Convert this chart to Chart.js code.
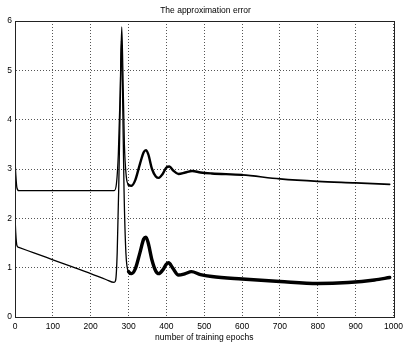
<!DOCTYPE html>
<html>
<head>
<meta charset="utf-8">
<script src="https://cdn.jsdelivr.net/npm/chart.js@4/dist/chart.umd.min.js"></script>
<style>
html,body{margin:0;padding:0;background:#fff;}
canvas{display:block;}
</style>
</head>
<body>
<canvas id="c" width="411" height="351"></canvas>
<script>
// ---- data ----
const xTicks = [0,100,200,300,400,500,600,700,800,900,1000];
const yTicks = [0,1,2,3,4,5,6];

const upperEpochs = [0,2,5,10,262,268,273,278,282,285,289,294,300,308,318,330,340,346,352,362,372,380,390,400,408,418,432,450,468,490,520,600,700,800,900,990];
const upperErr    = [3.18,2.9,2.62,2.56,2.56,2.7,3.3,4.6,5.88,5.0,3.5,2.85,2.68,2.66,2.78,3.1,3.34,3.38,3.3,3.0,2.85,2.82,2.9,3.03,3.05,2.97,2.9,2.93,2.96,2.93,2.91,2.88,2.80,2.75,2.72,2.69];

const lowerEpochs = [0,2,5,10,50,100,150,200,240,262,266,270,274,278,281,284,288,293,300,308,318,330,340,346,352,362,372,380,390,400,406,416,432,450,466,490,520,600,700,800,880,950,990];
const lowerErr    = [2.05,1.7,1.45,1.41,1.30,1.16,1.02,0.88,0.76,0.70,0.75,1.3,2.6,4.3,5.6,4.6,2.6,1.3,0.92,0.88,0.98,1.3,1.58,1.62,1.5,1.15,0.93,0.88,0.95,1.07,1.1,1.0,0.85,0.88,0.92,0.86,0.82,0.77,0.72,0.68,0.70,0.75,0.80];

const toPts = (xs, ys) => xs.map((x, i) => ({x: x, y: ys[i]}));

const frame = {
  id: 'frame',
  afterDraw(chart) {
    const a = chart.chartArea, ctx = chart.ctx;
    ctx.save();
    ctx.strokeStyle = '#222';
    ctx.lineWidth = 1;
    ctx.setLineDash([]);
    ctx.strokeRect(Math.round(a.left) + 0.5, Math.round(a.top) + 0.5,
                   Math.round(a.right - a.left), Math.round(a.bottom - a.top));
    ctx.restore();
  }
};

const FONT = "'Liberation Sans', Arial, sans-serif";

new Chart(document.getElementById('c'), {
  type: 'line',
  data: {
    datasets: [
      {
        label: 'upper',
        data: toPts(upperEpochs, upperErr),
        borderColor: '#000',
        borderWidth: 1.3,
        borderCapStyle: 'round',
        borderJoinStyle: 'round',
        pointRadius: 0,
        cubicInterpolationMode: 'monotone',
        segment: {
          borderWidth: ctx => (ctx.p0.parsed.x >= 300 && ctx.p0.parsed.x < 600) ? 2.4 : (ctx.p0.parsed.x >= 600 ? 1.7 : 1.3)
        }
      },
      {
        label: 'lower',
        data: toPts(lowerEpochs, lowerErr),
        borderColor: '#000',
        borderWidth: 1.3,
        borderCapStyle: 'round',
        borderJoinStyle: 'round',
        pointRadius: 0,
        cubicInterpolationMode: 'monotone',
        segment: {
          borderWidth: ctx => (ctx.p0.parsed.x >= 300) ? 3.4 : 1.3
        }
      }
    ]
  },
  options: {
    responsive: false,
    animation: false,
    layout: { padding: { top: 0, right: 0, bottom: 8, left: 0 } },
    plugins: {
      legend: { display: false },
      tooltip: { enabled: false },
      title: {
        display: true,
        text: 'The approximation error',
        color: '#000',
        font: { family: FONT, size: 8.5, weight: 'normal', lineHeight: 1.2 },
        padding: { top: 6, bottom: 4.8 }
      }
    },
    scales: {
      x: {
        type: 'linear',
        min: 0, max: 1000,
        afterBuildTicks: s => { s.ticks = xTicks.map(v => ({value: v})); },
        afterFit: s => { s.height = 26; },
        ticks: { color: '#000', font: { family: FONT, size: 8.5 }, padding: 5, maxRotation: 0, autoSkip: false,
                 callback: v => String(v) },
        grid: { color: '#555', lineWidth: 1, drawTicks: false },
        border: { display: true, color: '#222', dash: [1, 2] },
        title: { display: true, text: 'number of training epochs', color: '#000', font: { family: FONT, size: 8.5, lineHeight: 1.2 }, padding: 0 }
      },
      y: {
        type: 'linear',
        min: 0, max: 6,
        afterBuildTicks: s => { s.ticks = yTicks.map(v => ({value: v})); },
        afterFit: s => { s.width = 15; },
        ticks: { color: '#000', font: { family: FONT, size: 8.5 }, padding: 3, callback: v => String(v) },
        grid: { color: '#555', lineWidth: 1, drawTicks: false },
        border: { display: true, color: '#222', dash: [1, 2] }
      },
      yRight: {
        type: 'linear',
        position: 'right',
        min: 0, max: 6,
        afterFit: s => { s.width = 17.5; },
        ticks: { display: false },
        grid: { display: false, drawTicks: false },
        border: { display: false }
      }
    }
  },
  plugins: [frame]
});
</script>
</body>
</html>
